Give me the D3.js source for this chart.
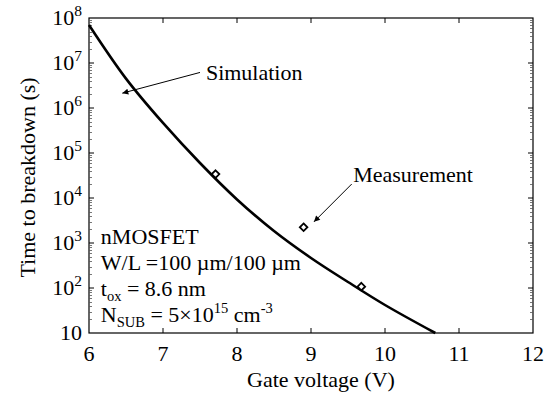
<!DOCTYPE html>
<html>
<head>
<meta charset="utf-8">
<script src="https://cdn.jsdelivr.net/npm/d3@7"></script>
<style>
  html, body { margin: 0; padding: 0; background: #fff; }
  svg { display: block; }
</style>
</head>
<body>
<svg id="chart" width="553" height="394"></svg>
<script>
// ---- data ----
const xTicks = [6, 7, 8, 9, 10, 11, 12];
const yTickExps = [1, 2, 3, 4, 5, 6, 7, 8];
const simV = [6.0, 6.5, 7.0, 7.5, 8.0, 8.5, 9.0, 9.5, 10.0, 10.68];
const simT = [7.0e7, 4.5e6, 4.65e5, 6.0e4, 9.3e3, 1.85e3, 465, 136, 41.9, 10];
const measV = [7.71, 8.90, 9.68];
const measT = [3.4e4, 2240, 107];
const xLabel = "Gate voltage (V)";
const yLabel = "Time to breakdown (s)";

// ---- layout ----
const W = 553, H = 394;
const m = { left: 89, right: 20, top: 18, bottom: 61 };
const svg = d3.select("#chart")
  .attr("font-family", "'Liberation Serif', Tinos, 'Times New Roman', Times, 'DejaVu Serif', serif");
const x = d3.scaleLinear().domain([6, 12]).range([m.left, W - m.right]);
const y = d3.scaleLog().domain([10, 1e8]).range([H - m.bottom, m.top]);
const FS = 22;

// minor ticks
const minorVals = [];
for (let e = 1; e < 8; e++) for (let k = 2; k <= 9; k++) minorVals.push(k * Math.pow(10, e));

const g = svg.append("g");
// box
g.append("rect").attr("x", x(6)).attr("y", y(1e8))
  .attr("width", x(12) - x(6)).attr("height", y(10) - y(1e8))
  .attr("fill", "none").attr("stroke", "#000").attr("stroke-width", 1.2);

// ticks inward
function ticksX(yPos, dir) {
  g.append("g").selectAll("line").data(xTicks.slice(1, -1)).join("line")
    .attr("x1", d => x(d)).attr("x2", d => x(d))
    .attr("y1", yPos).attr("y2", yPos + dir * 5)
    .attr("stroke", "#000").attr("stroke-width", 1);
}
ticksX(y(10), -1); ticksX(y(1e8), 1);
function ticksY(xPos, dir) {
  g.append("g").selectAll("line").data(yTickExps.slice(1, -1)).join("line")
    .attr("y1", d => y(Math.pow(10, d))).attr("y2", d => y(Math.pow(10, d)))
    .attr("x1", xPos).attr("x2", xPos + dir * 5)
    .attr("stroke", "#000").attr("stroke-width", 1);
  g.append("g").selectAll("line").data(minorVals).join("line")
    .attr("y1", d => Math.round(y(d)) + 0.5).attr("y2", d => Math.round(y(d)) + 0.5)
    .attr("x1", xPos).attr("x2", xPos + dir * 3)
    .attr("stroke", "#555").attr("stroke-width", 0.8);
}
ticksY(x(6), 1); ticksY(x(12), -1);

// x tick labels
g.append("g").selectAll("text").data(xTicks).join("text")
  .attr("x", d => x(d)).attr("y", y(10) + 28)
  .attr("text-anchor", "middle").attr("font-size", FS)
  .text(d => d);

// y tick labels
const yl = g.append("g").selectAll("text").data(yTickExps).join("text")
  .attr("x", x(6) - 7).attr("y", d => y(Math.pow(10, d)) + 7)
  .attr("text-anchor", "end").attr("font-size", FS);
yl.each(function(d) {
  const t = d3.select(this);
  if (d === 1) { t.text("10"); return; }
  t.append("tspan").text("10");
  t.append("tspan").attr("dy", -9).attr("font-size", 15.5).text(d);
});

// axis titles
g.append("text").attr("x", (x(6) + x(12)) / 2 + 10).attr("y", H - 7)
  .attr("text-anchor", "middle").attr("font-size", FS).text(xLabel);
g.append("text").attr("transform", `translate(35,${(y(10) + y(1e8)) / 2 + 2}) rotate(-90)`)
  .attr("text-anchor", "middle").attr("font-size", FS).text(yLabel);

// simulation curve
const simData = simV.map((v, i) => [v, simT[i]]);
g.append("path").datum(simData)
  .attr("d", d3.line().x(d => x(d[0])).y(d => y(d[1])).curve(d3.curveCatmullRom))
  .attr("fill", "none").attr("stroke", "#000").attr("stroke-width", 2.6);

// measurement diamonds
const measData = measV.map((v, i) => [v, measT[i]]);
g.append("g").selectAll("path").data(measData).join("path")
  .attr("transform", d => `translate(${x(d[0])},${y(d[1])})`)
  .attr("d", "M0,-3.8L3.8,0L0,3.8L-3.8,0Z")
  .attr("fill", "#fff").attr("stroke", "#000").attr("stroke-width", 1.8);

// arrows
const defs = svg.append("defs");
defs.append("marker").attr("id", "ah").attr("viewBox", "0 -5 10 10")
  .attr("refX", 10).attr("refY", 0).attr("markerWidth", 9).attr("markerHeight", 6)
  .attr("markerUnits", "userSpaceOnUse").attr("orient", "auto")
  .append("path").attr("d", "M0,-5L10,0L0,5Z").attr("fill", "#000");

const annArrows = [
  { from: [7.5, Math.pow(10, 6.79)], to: [6.45, Math.pow(10, 6.33)] },
  { from: [9.55, Math.pow(10, 4.31)], to: [9.04, Math.pow(10, 3.47)] }
];
g.append("g").selectAll("line").data(annArrows).join("line")
  .attr("x1", d => x(d.from[0])).attr("y1", d => y(d.from[1]))
  .attr("x2", d => x(d.to[0])).attr("y2", d => y(d.to[1]))
  .attr("stroke", "#000").attr("stroke-width", 1).attr("marker-end", "url(#ah)");

g.append("text").attr("x", x(7.58)).attr("y", y(Math.pow(10, 6.62)))
  .attr("font-size", FS).text("Simulation");
g.append("text").attr("x", x(9.57)).attr("y", y(Math.pow(10, 4.36)))
  .attr("font-size", FS).text("Measurement");

// device info block
const bx = x(6.16);
g.append("text").attr("x", bx).attr("y", y(Math.pow(10, 3.0)) + 1).attr("font-size", FS).text("nMOSFET");
g.append("text").attr("x", bx).attr("y", y(Math.pow(10, 3.0)) + 27).attr("font-size", FS).text("W/L =100 µm/100 µm");
const t3 = g.append("text").attr("x", bx).attr("y", y(Math.pow(10, 3.0)) + 53).attr("font-size", FS);
t3.append("tspan").text("t");
t3.append("tspan").attr("dy", 5).attr("font-size", 14.5).text("ox");
t3.append("tspan").attr("dy", -5).text(" = 8.6 nm");
const t4 = g.append("text").attr("x", bx).attr("y", y(Math.pow(10, 3.0)) + 79).attr("font-size", FS);
t4.append("tspan").text("N");
t4.append("tspan").attr("dy", 5).attr("font-size", 14.5).text("SUB");
t4.append("tspan").attr("dy", -5).text(" = 5×10");
t4.append("tspan").attr("dy", -9).attr("font-size", 14.5).text("15");
t4.append("tspan").attr("dy", 9).text(" cm");
t4.append("tspan").attr("dy", -9).attr("font-size", 14.5).text("-3");
</script>
</body>
</html>
